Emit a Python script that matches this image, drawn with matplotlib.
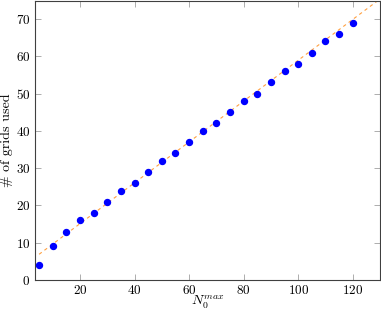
import numpy as np
import matplotlib
matplotlib.use("Agg")
import matplotlib.pyplot as plt

# donnees
n0_max = [5, 10, 15, 20, 25, 30, 35, 40, 45, 50, 55, 60, 65, 70, 75, 80, 85, 90, 95, 100, 105, 110, 115, 120]
grids_used = [4, 9, 13, 16, 18, 21, 24, 26, 29, 32, 34, 37, 40, 42, 45, 48, 50, 53, 56, 58, 61, 64, 66, 69]

# droite de tendance (pointillés)
fit_x = [5, 130]
fit_y = [6.9, 75.4]

plt.rcParams['font.family'] = ['cmr10', 'DejaVu Serif']
plt.rcParams['mathtext.fontset'] = 'cm'
plt.rcParams['axes.formatter.use_mathtext'] = True

fig = plt.figure(figsize=(3.81, 3.11), dpi=100)
ax = fig.add_axes([35 / 381, 31 / 311, 345 / 381, 279.5 / 311])

ax.plot(fit_x, fit_y, linestyle=(0, (3, 3)), color='#ffa040', linewidth=0.8)
ax.plot(n0_max, grids_used, 'o', color='blue', markersize=4.3, linestyle='none')

ax.set_xlim(3.5, 130)
ax.set_ylim(0, 75)
ax.set_xticks([20, 40, 60, 80, 100, 120])
ax.set_yticks([0, 10, 20, 30, 40, 50, 60, 70])
ax.tick_params(direction='in', top=True, right=True, color='#a0a0a0', length=4, labelsize=9.5, width=0.6)
ax.tick_params(axis='x', pad=3)
for s in ax.spines.values():
    s.set_color('#404040')
    s.set_linewidth(0.8)

ax.set_xlabel(r'$N_0^{max}$', fontsize=10, va='center')
ax.set_ylabel('# of grids used', fontsize=10)
ax.xaxis.set_label_coords(0.5, -0.082)
ax.yaxis.set_label_coords(-0.064, 0.5)

fig.savefig('out.png', dpi=100)
